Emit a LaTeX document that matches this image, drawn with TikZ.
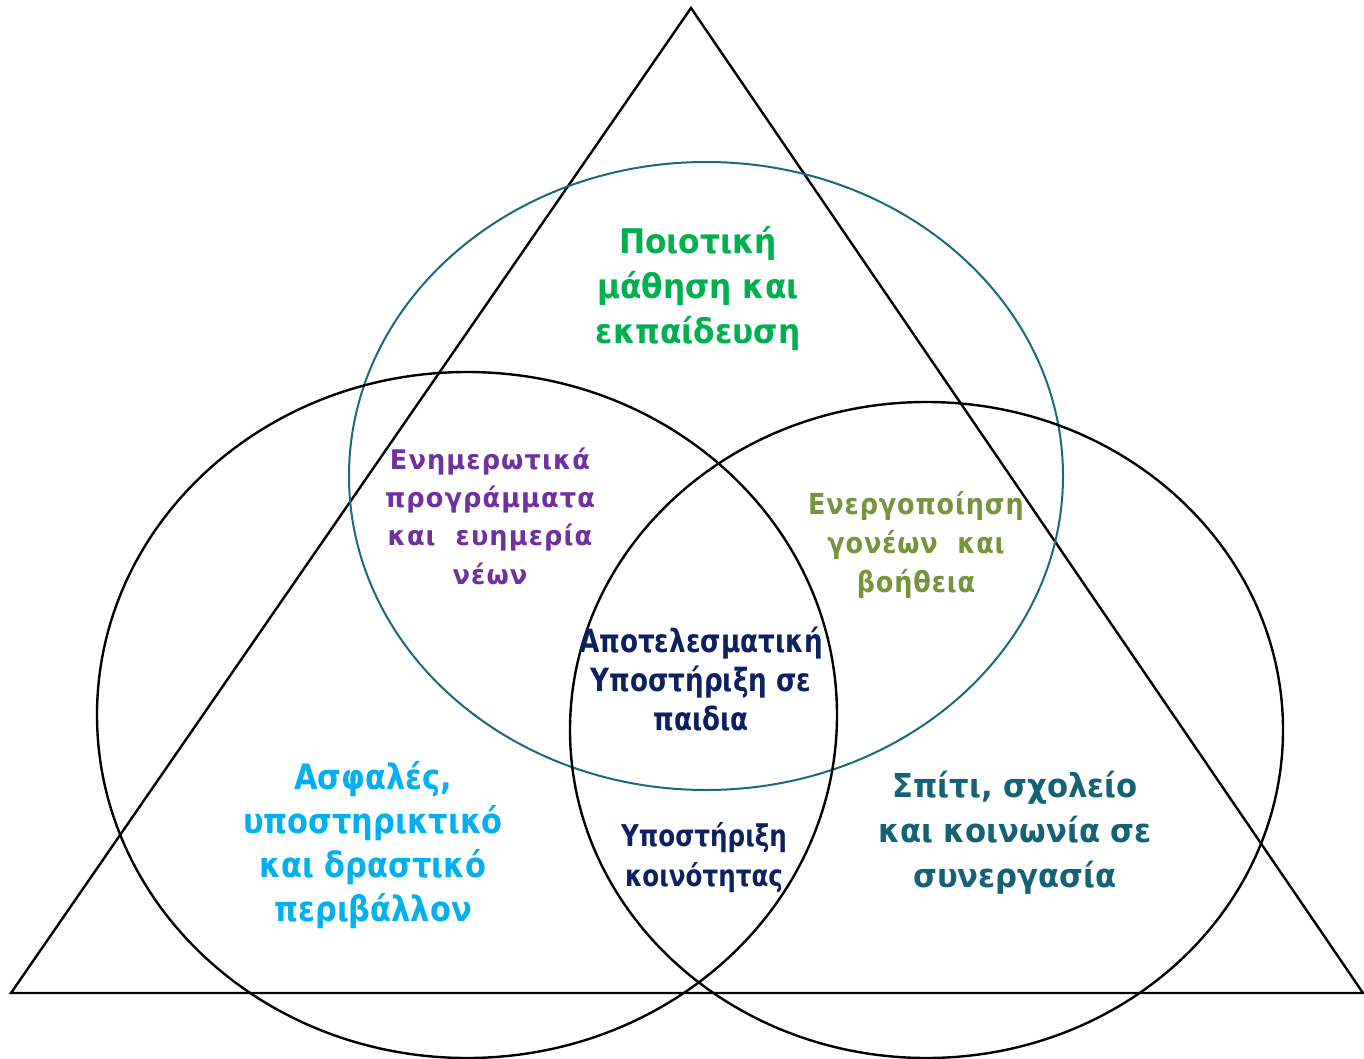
\documentclass[tikz,border=0pt]{standalone}
\usepackage{fontspec}
\newfontfamily\fgreen[FakeStretch=0.92]{DejaVu Sans}
\newfontfamily\fpurple[FakeStretch=0.95,LetterSpace=4]{DejaVu Sans}
\newfontfamily\folive[FakeStretch=0.88,LetterSpace=3]{DejaVu Sans}
\newfontfamily\fnavy[FakeStretch=0.82]{DejaVu Sans}
\newfontfamily\fcyan[FakeStretch=0.87]{DejaVu Sans}
\newfontfamily\fteal[FakeStretch=0.93]{DejaVu Sans}
\definecolor{cgreen}{RGB}{0,176,80}
\definecolor{cpurple}{RGB}{112,48,160}
\definecolor{colive}{RGB}{119,147,60}
\definecolor{cnavy}{RGB}{14,32,96}
\definecolor{ccyan}{RGB}{0,176,240}
\definecolor{cteal}{RGB}{20,98,118}
\definecolor{cring}{RGB}{25,105,128}
\tikzset{
  blackline/.style={draw=black, line width=1.2pt},
  tealline/.style={draw=cring, line width=1.0pt},
  lbl/.style={align=center, inner sep=0pt},
}
\begin{document}
\begin{tikzpicture}[x=0.5pt,y=-0.5pt]
\useasboundingbox (0,0) rectangle (1364,1059);
\fill[white] (0,0) rectangle (1364,1059);
% triangle
\coordinate (apex) at (691,8);
\coordinate (bl) at (11,993);
\coordinate (br) at (1363,993);
\draw[blackline, line join=miter] (apex) -- (bl) -- (br) -- cycle;
% circles
\draw[tealline] (706,476) ellipse [x radius=357, y radius=314];
\draw[blackline] (467,715) ellipse [x radius=370, y radius=343];
\draw[blackline] (926.5,730) ellipse [x radius=356.5, y radius=328];
% labels
\node[lbl, text=cgreen, font={\fgreen\fontsize{17}{22.5}\selectfont\bfseries}] (quality) at (698,288)
  {Ποιοτική\\μάθηση και\\εκπαίδευση};
\node[lbl, text=cpurple, font={\fpurple\fontsize{13.5}{19.2}\selectfont\bfseries}] (info) at (490,516)
  {Ενημερωτικά\\προγράμματα\\και\ \ ευημερία\\νέων};
\node[lbl, text=colive, font={\folive\fontsize{14.5}{19.3}\selectfont\bfseries}] (parents) at (916,545)
  {Ενεργοποίηση\\γονέων\ \ και\\βοήθεια};
\node[lbl, text=cnavy, font={\fnavy\fontsize{16}{19.3}\selectfont\bfseries}] (effective) at (701,679)
  {Αποτελεσματική\\Υποστήριξη σε\\παιδια};
\node[lbl, text=ccyan, font={\fcyan\fontsize{17.5}{22}\selectfont\bfseries}] (safe) at (373,845)
  {Ασφαλές,\\υποστηρικτικό\\και δραστικό\\περιβάλλον};
\node[lbl, text=cnavy, font={\fnavy\fontsize{15}{20}\selectfont\bfseries}] (community) at (704,858)
  {Υποστήριξη\\κοινότητας};
\node[lbl, text=cteal, font={\fteal\fontsize{16.5}{22.5}\selectfont\bfseries}] (home) at (1015,833)
  {Σπίτι, σχολείο\\και κοινωνία σε\\συνεργασία};
\end{tikzpicture}
\end{document}
